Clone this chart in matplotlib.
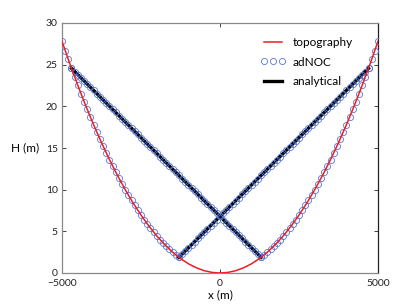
import numpy as np
import matplotlib
matplotlib.use("Agg")
import matplotlib.pyplot as plt

plt.rcParams['font.family'] = ['Lato', 'DejaVu Sans']

# topography H(x), read every 250 m
topo_x = [-5000, -4750, -4500, -4250, -4000, -3750, -3500, -3250, -3000, -2750,
          -2500, -2250, -2000, -1750, -1500, -1250, -1000, -750, -500, -250, 0,
          250, 500, 750, 1000, 1250, 1500, 1750, 2000, 2250, 2500,
          2750, 3000, 3250, 3500, 3750, 4000, 4250, 4500, 4750, 5000]
topo_h = [27.80, 25.09, 22.52, 20.09, 17.79, 15.64, 13.62, 11.75, 10.01, 8.41,
          6.95, 5.63, 4.45, 3.41, 2.50, 1.74, 1.11, 0.63, 0.28, 0.07, 0.0,
          0.07, 0.28, 0.63, 1.11, 1.74, 2.50, 3.41, 4.45, 5.63, 6.95,
          8.41, 10.01, 11.75, 13.62, 15.64, 17.79, 20.09, 22.52, 25.09, 27.80]

# adNOC points on the slope (left branch, dx = 100 m; right branch is the mirror)
slope_x = list(range(-5000, -1250, 100))
slope_h = [27.80, 26.70, 25.62, 24.56, 23.53, 22.52, 21.53, 20.56, 19.62, 18.69,
           17.79, 16.91, 16.06, 15.22, 14.41, 13.62, 12.85, 12.11, 11.39, 10.69,
           10.01, 9.35, 8.72, 8.11, 7.52, 6.95, 6.41, 5.88, 5.38, 4.90,
           4.45, 4.01, 3.60, 3.21, 2.85, 2.50, 2.18, 1.88]

# adNOC points on the straight surface, x from -4700 to 1300 (mirror for the other one)
line_x = list(range(-4700, 1350, 100))
line_h = [24.56, 24.18, 23.80, 23.43, 23.05, 22.67, 22.29, 21.91, 21.54, 21.16,
          20.78, 20.40, 20.02, 19.65, 19.27, 18.89, 18.51, 18.13, 17.76, 17.38,
          17.00, 16.62, 16.24, 15.87, 15.49, 15.11, 14.73, 14.35, 13.98, 13.60,
          13.22, 12.84, 12.46, 12.09, 11.71, 11.33, 10.95, 10.57, 10.20, 9.82,
          9.44, 9.06, 8.68, 8.31, 7.93, 7.55, 7.17, 6.79, 6.42, 6.04,
          5.66, 5.28, 4.90, 4.53, 4.15, 3.77, 3.39, 3.01, 2.64, 2.26, 1.88]

# analytical solution: end points of the two straight surfaces
ana_x = [-4700, 1300]
ana_h = [24.56, 1.88]

fig = plt.figure(figsize=(3.94, 3.07), dpi=100)
ax = fig.add_axes([62/394, 34/307, 316/394, 250/307])

sx = np.array(slope_x)
lx = np.array(line_x)
ax_ = np.array(ana_x)

ax.plot(ax_, ana_h, color='black', lw=2.4, zorder=2, label='analytical')
ax.plot(-ax_, ana_h, color='black', lw=2.4, zorder=2)

circ = dict(ls='none', marker='o', ms=4.4, mfc='none', mec='#5577d4', mew=0.6, zorder=3)
ax.plot(np.concatenate([sx, -sx[::-1]]), slope_h + slope_h[::-1], label='adNOC', **circ)
ax.plot(lx, line_h, **circ)
ax.plot(-lx, line_h, **circ)

ax.plot(topo_x, topo_h, color='#ee1c24', lw=1.1, zorder=4, label='topography')

ax.set_xlim(-5000, 5000)
ax.set_ylim(0, 30)
ax.set_xticks([-5000, 0, 5000])
ax.set_yticks([0, 5, 10, 15, 20, 25, 30])
ax.tick_params(direction='in', length=3, width=0.6, labelsize=7.5, top=True, right=True,
               colors='#222222')
ax.tick_params(axis='x', pad=4)
ax.tick_params(axis='y', pad=3)
for s in ['left', 'bottom', 'top']:
    ax.spines[s].set_color('#888888')
ax.spines['right'].set_color('#222222')
for s in ax.spines.values():
    s.set_linewidth(0.9)

ax.set_xlabel('x (m)', fontsize=8.5, labelpad=1.5)
ax.set_ylabel('H (m)', fontsize=8.5, rotation=0, labelpad=15, va='center')

h, l = ax.get_legend_handles_labels()
order = [2, 1, 0]
ax.legend([h[i] for i in order], [l[i] for i in order], loc='center left',
          bbox_to_anchor=((260-62)/316, (273-62)/250), frameon=False,
          borderpad=0, borderaxespad=0, handlelength=2.2, handletextpad=0.6,
          labelspacing=0.72, numpoints=3, fontsize=8.5)

fig.savefig('out.png', dpi=100)
